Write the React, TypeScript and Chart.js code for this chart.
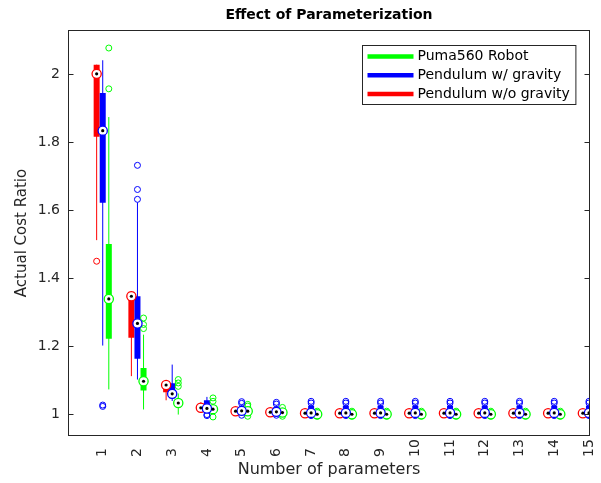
import React, { useEffect, useRef } from "react";
import { Chart, registerables } from "chart.js";

Chart.register(...registerables);

// ---------------- data ----------------
const categories = [1, 2, 3, 4, 5, 6, 7, 8, 9, 10, 11, 12, 13, 14, 15];
const categoryLabels = ["1", "2", "3", "4", "5", "6", "7", "8", "9", "10", "11", "12", "13", "14", "15"];
const yTickValues = [1, 1.2, 1.4, 1.6, 1.8, 2];
const yTickLabels = ["1", "1.2", "1.4", "1.6", "1.8", "2"];

const chartTitle = "Effect of Parameterization";
const xAxisTitle = "Number of parameters";
const yAxisTitle = "Actual Cost Ratio";
const seriesNames = ["Puma560 Robot", "Pendulum w/ gravity", "Pendulum w/o gravity"];

// Pendulum w/o gravity (red)
const redLow = [1.511, 1.111, 1.040, 1.004, 1.002, 1.001, 0.999, 0.999, 0.999, 0.999, 0.999, 0.999, 0.999, 0.999, 0.999];
const redQ1 = [1.815, 1.224, 1.064, 1.010, 1.004, 1.003, 1.000, 1.000, 1.000, 1.000, 1.000, 1.000, 1.000, 1.000, 1.000];
const redMedian = [2.0, 1.346, 1.085, 1.018, 1.008, 1.005, 1.002, 1.002, 1.002, 1.002, 1.002, 1.002, 1.002, 1.002, 1.002];
const redQ3 = [2.027, 1.359, 1.094, 1.030, 1.012, 1.008, 1.005, 1.005, 1.005, 1.005, 1.005, 1.005, 1.005, 1.005, 1.005];
const redHigh = [2.027, 1.359, 1.094, 1.034, 1.015, 1.010, 1.007, 1.007, 1.007, 1.007, 1.007, 1.007, 1.007, 1.007, 1.007];
const redOutliers = [[1.449], [], [], [], [], [], [], [], [], [], [], [], [], [], []];

// Pendulum w/ gravity (blue)
const blueLow = [1.201, 1.101, 1.038, 1.004, 1.001, 1.000, 0.998, 0.998, 0.998, 0.998, 0.998, 0.998, 0.998, 0.998, 0.998];
const blueQ1 = [1.621, 1.162, 1.046, 1.010, 1.004, 1.002, 1.000, 1.000, 1.000, 1.000, 1.000, 1.000, 1.000, 1.000, 1.000];
const blueMedian = [1.833, 1.266, 1.059, 1.016, 1.009, 1.006, 1.003, 1.003, 1.003, 1.003, 1.003, 1.003, 1.003, 1.003, 1.003];
const blueQ3 = [1.944, 1.346, 1.090, 1.040, 1.020, 1.020, 1.024, 1.024, 1.024, 1.024, 1.024, 1.024, 1.024, 1.024, 1.024];
const blueHigh = [2.040, 1.622, 1.145, 1.050, 1.026, 1.025, 1.028, 1.028, 1.028, 1.028, 1.028, 1.028, 1.028, 1.028, 1.028];
const blueOutliers = [
  [1.026, 1.022],
  [1.631, 1.660, 1.731],
  [],
  [0.998, 0.995],
  [1.031, 1.036, 0.996],
  [1.029, 1.034, 0.996],
  [1.032, 1.037, 0.995],
  [1.032, 1.037, 0.995],
  [1.032, 1.037, 0.995],
  [1.032, 1.037, 0.995],
  [1.032, 1.037, 0.995],
  [1.032, 1.037, 0.995],
  [1.032, 1.037, 0.995],
  [1.032, 1.037, 0.995],
  [1.032, 1.037, 0.995],
];

// Puma560 Robot (green)
const greenLow = [1.072, 1.013, 0.998, 1.000, 0.999, 0.998, 0.996, 0.996, 0.996, 0.996, 0.996, 0.996, 0.996, 0.996, 0.996];
const greenQ1 = [1.221, 1.069, 1.022, 1.006, 1.003, 1.000, 0.997, 0.997, 0.997, 0.997, 0.997, 0.997, 0.997, 0.997, 0.997];
const greenMedian = [1.338, 1.096, 1.032, 1.014, 1.008, 1.004, 0.999, 0.999, 0.999, 0.999, 0.999, 0.999, 0.999, 0.999, 0.999];
const greenQ3 = [1.500, 1.135, 1.042, 1.024, 1.013, 1.008, 1.002, 1.002, 1.002, 1.002, 1.002, 1.002, 1.002, 1.002, 1.002];
const greenHigh = [1.873, 1.233, 1.060, 1.030, 1.018, 1.012, 1.004, 1.004, 1.004, 1.004, 1.004, 1.004, 1.004, 1.004, 1.004];
const greenOutliers = [
  [1.956, 2.076],
  [1.251, 1.263, 1.282],
  [1.081, 1.091, 1.101],
  [1.037, 1.047, 0.991],
  [1.023, 1.028, 0.993],
  [1.019, 0.993],
  [1.008, 0.993],
  [1.008, 0.993],
  [1.008, 0.993],
  [1.008, 0.993],
  [1.008, 0.993],
  [1.008, 0.993],
  [1.008, 0.993],
  [1.008, 0.993],
  [1.008, 0.993],
];

// ---------------- styles ----------------
const FONT = "'DejaVu Sans', sans-serif";
const AXIS_COLOR = "#262626";
const GREEN = "rgb(0,255,0)";
const BLUE = "rgb(0,0,255)";
const RED = "rgb(255,0,0)";
const GROUP_OFFSET = 0.175;

type Series = {
  name: string;
  color: string;
  offset: number;
  rank: number;
  low: number[];
  q1: number[];
  med: number[];
  q3: number[];
  high: number[];
  out: number[][];
};

const series: Series[] = [
  { name: seriesNames[0], color: GREEN, offset: GROUP_OFFSET, rank: 2, low: greenLow, q1: greenQ1, med: greenMedian, q3: greenQ3, high: greenHigh, out: greenOutliers },
  { name: seriesNames[1], color: BLUE, offset: 0, rank: 0, low: blueLow, q1: blueQ1, med: blueMedian, q3: blueQ3, high: blueHigh, out: blueOutliers },
  { name: seriesNames[2], color: RED, offset: -GROUP_OFFSET, rank: 1, low: redLow, q1: redQ1, med: redMedian, q3: redQ3, high: redHigh, out: redOutliers },
];

function segments(s: Series, a: number[], b: number[]) {
  const pts: any[] = [];
  categories.forEach((c, i) => {
    const x = c + s.offset;
    pts.push({ x, y: a[i] }, { x, y: b[i] }, { x, y: null });
  });
  return pts;
}

function buildDatasets() {
  const ds: any[] = [];
  series.forEach((s) => {
    ds.push({
      label: s.name + " whisker",
      data: segments(s, s.low, s.high),
      showLine: true,
      spanGaps: false,
      borderColor: s.color,
      borderWidth: 1,
      pointRadius: 0,
      order: 40 + s.rank,
    });
    ds.push({
      label: s.name + " box",
      data: segments(s, s.q1, s.q3),
      showLine: true,
      spanGaps: false,
      borderColor: s.color,
      borderWidth: 6,
      borderCapStyle: "butt",
      pointRadius: 0,
      order: 30 + s.rank,
    });
    const outPts: any[] = [];
    categories.forEach((c, i) => {
      s.out[i].forEach((v) => outPts.push({ x: c + s.offset, y: v }));
    });
    ds.push({
      label: s.name + " outliers",
      data: outPts,
      showLine: false,
      pointStyle: "circle",
      pointRadius: 3,
      pointBorderWidth: 1,
      pointBorderColor: s.color,
      pointBackgroundColor: "rgba(255,255,255,0)",
      order: 20 + s.rank,
    });
    ds.push({
      label: s.name + " median",
      data: categories.map((c, i) => ({ x: c + s.offset, y: s.med[i] })),
      showLine: false,
      pointStyle: "circle",
      pointRadius: 4.6,
      pointBorderWidth: 1.3,
      pointBorderColor: s.color,
      pointBackgroundColor: "#ffffff",
      order: 10 + s.rank,
    });
    ds.push({
      label: s.name + " median dot",
      data: categories.map((c, i) => ({ x: c + s.offset, y: s.med[i] })),
      showLine: false,
      pointStyle: "circle",
      pointRadius: 1.6,
      pointBorderWidth: 0,
      pointBackgroundColor: "#000000",
      order: s.rank,
    });
  });
  return ds;
}

const framePlugin = {
  id: "matlabFrame",
  afterDraw(chart: any) {
    const { ctx, chartArea: ca, scales } = chart;
    const xs = scales.x;
    const ys = scales.y;
    ctx.save();
    // title centred over the axes
    ctx.fillStyle = "#000000";
    ctx.font = `bold 14px ${FONT}`;
    ctx.textAlign = "center";
    ctx.textBaseline = "middle";
    ctx.fillText(chartTitle, (ca.left + ca.right) / 2, 15);
    // axes box
    const L = Math.round(ca.left) + 0.5;
    const T = Math.round(ca.top) + 0.5;
    const R = Math.round(ca.right) - 0.5;
    const B = Math.round(ca.bottom) - 0.5;
    ctx.strokeStyle = AXIS_COLOR;
    ctx.lineWidth = 1;
    ctx.strokeRect(L, T, R - L, B - T);
    // inward y ticks
    ctx.beginPath();
    ys.ticks.forEach((t: any) => {
      const py = Math.round(ys.getPixelForValue(t.value)) + 0.5;
      ctx.moveTo(L, py);
      ctx.lineTo(L + 5, py);
      ctx.moveTo(R, py);
      ctx.lineTo(R - 5, py);
    });
    ctx.stroke();
    // rotated x tick labels (reading upward, start-aligned)
    ctx.fillStyle = AXIS_COLOR;
    ctx.font = `14px ${FONT}`;
    xs.ticks.forEach((t: any) => {
      const idx = categories.indexOf(t.value);
      const label = idx >= 0 ? categoryLabels[idx] : String(t.value);
      const px = xs.getPixelForValue(t.value);
      ctx.save();
      ctx.translate(px, ca.bottom + 21);
      ctx.rotate(-Math.PI / 2);
      ctx.textAlign = "left";
      ctx.textBaseline = "middle";
      ctx.fillText(label, 0, 0);
      ctx.restore();
    });
    // legend
    ctx.font = `14px ${FONT}`;
    const textW = Math.max(...series.map((s) => ctx.measureText(s.name).width));
    const padL = 5, lineLen = 46, gap = 4, padR = 6, rowH = 18.7;
    const boxW = padL + lineLen + gap + textW + padR;
    const boxH = 59;
    const bx = Math.round(ca.right - 15 - boxW) + 0.5;
    const by = Math.round(ca.top + 15) + 0.5;
    ctx.fillStyle = "#ffffff";
    ctx.fillRect(bx, by, boxW, boxH);
    ctx.strokeStyle = AXIS_COLOR;
    ctx.lineWidth = 1;
    ctx.strokeRect(bx, by, boxW, boxH);
    series.forEach((s, i) => {
      const cy = by + 11 + i * rowH;
      ctx.strokeStyle = s.color;
      ctx.lineWidth = 4.5;
      ctx.beginPath();
      ctx.moveTo(bx + padL, cy);
      ctx.lineTo(bx + padL + lineLen, cy);
      ctx.stroke();
      ctx.fillStyle = "#000000";
      ctx.textAlign = "left";
      ctx.textBaseline = "middle";
      ctx.fillText(s.name, bx + padL + lineLen + gap, cy);
    });
    ctx.restore();
  },
};

export default function App() {
  const ref = useRef<HTMLCanvasElement | null>(null);
  useEffect(() => {
    if (!ref.current) return;
    const chart = new Chart(ref.current, {
      type: "scatter",
      data: { datasets: buildDatasets() },
      options: {
        responsive: false,
        animation: false,
        devicePixelRatio: 1,
        events: [],
        layout: { padding: { left: 0, right: 11, top: 30, bottom: 0 } },
        plugins: {
          legend: { display: false },
          tooltip: { enabled: false },
          title: { display: false },
        },
        scales: {
          x: {
            type: "linear",
            min: 0,
            max: 15.03,
            afterBuildTicks: (axis: any) => {
              axis.ticks = categories.map((v) => ({ value: v }));
            },
            ticks: { display: false },
            grid: { display: false, drawTicks: false },
            border: { display: false },
            title: {
              display: true,
              text: xAxisTitle,
              color: AXIS_COLOR,
              font: { family: FONT, size: 16 },
              padding: { top: 0, bottom: 3.4 },
            },
            afterFit: (axis: any) => {
              axis.height = 47;
            },
          },
          y: {
            type: "linear",
            min: 0.935,
            max: 2.129,
            afterBuildTicks: (axis: any) => {
              axis.ticks = yTickValues.map((v) => ({ value: v }));
            },
            ticks: {
              color: AXIS_COLOR,
              font: { family: FONT, size: 14 },
              padding: 8,
              callback: (v: any) => {
                const idx = yTickValues.indexOf(v);
                return idx >= 0 ? yTickLabels[idx] : String(v);
              },
            },
            grid: { display: false, drawTicks: false },
            border: { display: false },
            title: {
              display: true,
              text: yAxisTitle,
              color: AXIS_COLOR,
              font: { family: FONT, size: 15 },
              padding: { top: 13, bottom: 0 },
            },
            afterFit: (axis: any) => {
              axis.width = 68;
            },
          },
        },
      } as any,
      plugins: [framePlugin],
    });
    return () => chart.destroy();
  }, []);
  return (
    <div style={{ position: "absolute", left: 0, top: 0, width: 601, height: 483 }}>
      <canvas ref={ref} width={601} height={483} style={{ width: 601, height: 483 }} />
    </div>
  );
}
